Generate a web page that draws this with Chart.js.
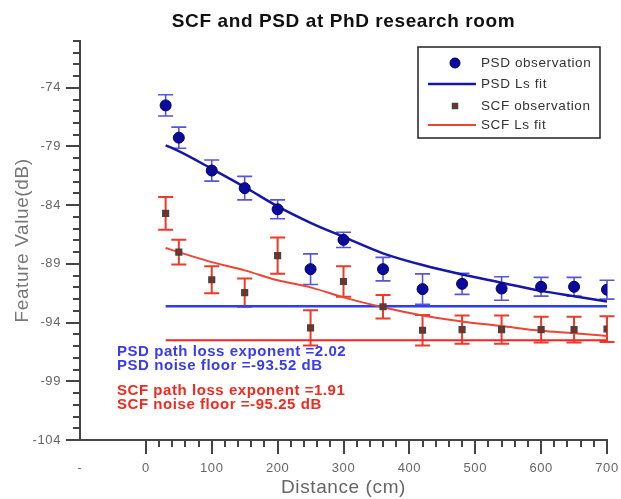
<!DOCTYPE html>
<html>
<head>
<meta charset="utf-8">
<script src="https://cdn.jsdelivr.net/npm/chart.js@4"></script>
<style>
  html, body { margin: 0; padding: 0; background: #fff; }
</style>
</head>
<body>
<canvas id="chart" width="621" height="499"></canvas>
<script>
// measurement distances (cm)
const distances = [30, 50, 100, 150, 200, 250, 300, 360, 420, 480, 540, 600, 650, 700];

// observations and their error bar half-widths (dB)
const psdObs = [-75.5, -78.25, -81.05, -82.55, -84.35, -89.45, -86.95, -89.45, -91.15, -90.7, -91.1, -90.95, -90.95, -91.2];
const psdErr = [0.9, 0.9, 0.9, 1.0, 0.8, 1.3, 0.65, 1.0, 1.3, 0.9, 1.0, 0.8, 0.8, 0.8];
const scfObs = [-84.7, -88.0, -90.35, -91.45, -88.3, -94.45, -90.5, -92.65, -94.65, -94.6, -94.6, -94.6, -94.6, -94.55];
const scfErr = [1.4, 1.05, 1.15, 1.2, 1.55, 1.5, 1.3, 1.0, 1.3, 1.2, 1.2, 1.1, 1.1, 1.1];

// least squares fit curves read at the same distances
const psdFit = [-78.9, -79.4, -80.9, -82.45, -84.1, -85.5, -86.7, -88.1, -89.1, -89.9, -90.6, -91.3, -91.75, -92.2];
const scfFit = [-87.65, -88.0, -88.85, -89.55, -90.4, -91.0, -91.85, -92.7, -93.4, -93.9, -94.3, -94.7, -94.9, -95.15];

// noise floor lines
const floorX = [30, 700];
const psdFloor = [-92.6, -92.6];
const scfFloor = [-95.5, -95.5];

// axis ticks
const xTicks = [-100, 0, 100, 200, 300, 400, 500, 600, 700];
const xTickLabels = ['-', '0', '100', '200', '300', '400', '500', '600', '700'];
const yTicks = [-104, -99, -94, -89, -84, -79, -74];

const psdNotes = ['PSD path loss exponent =2.02', 'PSD noise floor =-93.52 dB'];
const scfNotes = ['SCF path loss exponent =1.91', 'SCF noise floor =-95.25 dB'];

const FONT = '"Liberation Sans", Arial, sans-serif';

const toXY = (xs, ys) => ys.map((v, i) => ({ x: xs[i], y: v }));

// slightly wider text, the original looks stretched
const spacing = {
  id: 'spacing',
  beforeDraw(chart) { chart.ctx.letterSpacing = '0.6px'; }
};

// error bars under the markers
const errorBars = {
  id: 'errorBars',
  beforeDatasetsDraw(chart) {
    const { ctx, scales: { x, y } } = chart;
    const sets = [[psdObs, psdErr, '#5656d9', 1.6], [scfObs, scfErr, '#ee3a26', 2]];
    sets.forEach(([vals, errs, color, w]) => {
      ctx.save();
      ctx.strokeStyle = color;
      ctx.lineWidth = w;
      vals.forEach((v, i) => {
        const px = x.getPixelForValue(distances[i]);
        const top = y.getPixelForValue(v + errs[i]);
        const bot = y.getPixelForValue(v - errs[i]);
        ctx.beginPath();
        ctx.moveTo(px, top); ctx.lineTo(px, bot);
        ctx.moveTo(px - 7.5, top); ctx.lineTo(px + 7.5, top);
        ctx.moveTo(px - 7.5, bot); ctx.lineTo(px + 7.5, bot);
        ctx.stroke();
      });
      ctx.restore();
    });
  }
};

// major + minor tick marks on the outside of the axes
const axisTicks = {
  id: 'axisTicks',
  afterDraw(chart) {
    const { ctx, scales: { x, y } } = chart;
    ctx.save();
    ctx.strokeStyle = '#444';
    ctx.lineWidth = 2;
    ctx.beginPath();
    for (let v = 0; v <= 700; v += 20) {
      const px = Math.round(x.getPixelForValue(v));
      const len = v % 100 === 0 ? 14 : 7;
      ctx.moveTo(px, x.top); ctx.lineTo(px, x.top + len);
    }
    for (let v = -104; v <= -70; v += 1) {
      const py = Math.round(y.getPixelForValue(v));
      const len = yTicks.includes(v) ? 14 : 7;
      ctx.moveTo(y.right, py); ctx.lineTo(y.right - len, py);
    }
    ctx.stroke();
    ctx.restore();
  }
};

// boxed legend in the top right corner
const boxLegend = {
  id: 'boxLegend',
  afterDraw(chart) {
    const { ctx } = chart;
    const ds = chart.data.datasets;
    ctx.save();
    ctx.fillStyle = '#fff';
    ctx.fillRect(418, 47, 182, 91);
    ctx.strokeStyle = '#222';
    ctx.lineWidth = 1.5;
    ctx.strokeRect(418, 47, 182, 91);
    ctx.font = '13.5px ' + FONT;
    ctx.letterSpacing = '0.6px';
    ctx.textBaseline = 'middle';
    const rows = [63, 84, 106, 125];
    rows.forEach((ry, i) => {
      const d = ds[i];
      if (d.showLine === false) {
        ctx.fillStyle = d.backgroundColor;
        ctx.strokeStyle = d.borderColor;
        ctx.lineWidth = d.borderWidth;
        ctx.beginPath();
        if (d.pointStyle === 'rect') {
          ctx.rect(452.5, ry - 2.5, 5, 5);
        } else {
          ctx.arc(455, ry, 5, 0, Math.PI * 2);
        }
        ctx.fill();
        ctx.stroke();
      } else {
        ctx.strokeStyle = d.borderColor;
        ctx.lineWidth = d.borderWidth;
        ctx.beginPath();
        ctx.moveTo(428, ry); ctx.lineTo(476, ry);
        ctx.stroke();
      }
      ctx.fillStyle = '#333';
      ctx.fillText(d.label, 481, ry);
    });
    ctx.restore();
  }
};

// fit parameter notes in the lower left
const fitNotes = {
  id: 'fitNotes',
  afterDraw(chart) {
    const { ctx, chartArea } = chart;
    const left = chartArea.left + 37;
    ctx.save();
    ctx.font = 'bold 15px ' + FONT;
    ctx.letterSpacing = '0.55px';
    ctx.textBaseline = 'middle';
    ctx.fillStyle = '#3a3aee';
    psdNotes.forEach((t, i) => ctx.fillText(t, left, 352 + i * 13.5));
    ctx.fillStyle = '#f02a1e';
    scfNotes.forEach((t, i) => ctx.fillText(t, left, 391 + i * 14));
    ctx.restore();
  }
};

new Chart(document.getElementById('chart'), {
  type: 'scatter',
  data: {
    datasets: [
      {
        label: 'PSD observation',
        data: toXY(distances, psdObs),
        showLine: false,
        pointStyle: 'circle',
        pointRadius: 5.5,
        backgroundColor: '#0a0a9c',
        borderColor: '#000066',
        borderWidth: 1,
        order: 0
      },
      {
        label: 'PSD Ls fit',
        data: toXY(distances, psdFit),
        showLine: true,
        pointRadius: 0,
        borderColor: '#1616a8',
        borderWidth: 2.5,
        cubicInterpolationMode: 'monotone',
        order: 1
      },
      {
        label: 'SCF observation',
        data: toXY(distances, scfObs),
        showLine: false,
        pointStyle: 'rect',
        pointRadius: 4,
        backgroundColor: '#8a2a20',
        borderColor: '#444',
        borderWidth: 1.5,
        order: 0
      },
      {
        label: 'SCF Ls fit',
        data: toXY(distances, scfFit),
        showLine: true,
        pointRadius: 0,
        borderColor: '#ee4433',
        borderWidth: 2,
        cubicInterpolationMode: 'monotone',
        order: 1
      },
      {
        label: 'PSD noise floor',
        data: toXY(floorX, psdFloor),
        showLine: true,
        pointRadius: 0,
        borderColor: '#2a3cff',
        borderWidth: 2.5,
        order: 2
      },
      {
        label: 'SCF noise floor',
        data: toXY(floorX, scfFloor),
        showLine: true,
        pointRadius: 0,
        borderColor: '#ff2020',
        borderWidth: 2,
        order: 2
      }
    ]
  },
  options: {
    responsive: false,
    animation: false,
    layout: { padding: { left: 0, right: 14, top: 0, bottom: 0 } },
    plugins: {
      legend: { display: false },
      tooltip: { enabled: false },
      title: {
        display: true,
        fullSize: false,
        text: 'SCF and PSD at PhD research room',
        color: '#111',
        font: { family: FONT, size: 19, weight: 'bold' },
        padding: { top: 10, bottom: 8 }
      }
    },
    scales: {
      x: {
        type: 'linear',
        min: -100,
        max: 700,
        afterBuildTicks: s => { s.ticks = xTicks.map(v => ({ value: v })); },
        afterFit: s => { s.height = 59; s.paddingLeft = 0; s.paddingRight = 0; },
        ticks: {
          callback: v => xTickLabels[xTicks.indexOf(v)],
          color: '#666',
          font: { family: FONT, size: 13 },
          padding: 21,
          maxRotation: 0,
          autoSkip: false
        },
        grid: { drawOnChartArea: false, drawTicks: false },
        border: { color: '#444', width: 2 },
        title: {
          display: true,
          text: 'Distance (cm)',
          color: '#666',
          font: { family: FONT, size: 19 },
          padding: { top: 0, bottom: 0 }
        }
      },
      y: {
        type: 'linear',
        min: -104,
        max: -70,
        afterBuildTicks: s => { s.ticks = yTicks.map(v => ({ value: v })); },
        afterFit: s => { s.width = 80; s.paddingTop = 0; s.paddingBottom = 0; },
        ticks: {
          color: '#666',
          font: { family: FONT, size: 13 },
          padding: 19,
          autoSkip: false
        },
        grid: { drawOnChartArea: false, drawTicks: false },
        border: { color: '#444', width: 2 },
        title: {
          display: true,
          text: 'Feature Value(dB)',
          color: '#777',
          font: { family: FONT, size: 19 },
          padding: { top: 11, bottom: 0 }
        }
      }
    }
  },
  plugins: [spacing, errorBars, axisTicks, boxLegend, fitNotes]
});
</script>
</body>
</html>
